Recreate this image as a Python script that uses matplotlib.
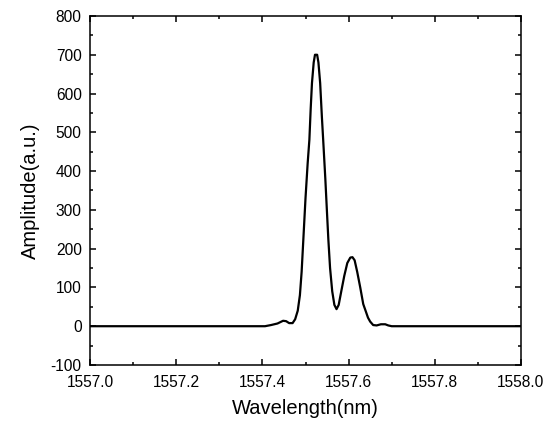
import numpy as np
import matplotlib
matplotlib.use("Agg")
from matplotlib import pyplot as plt
from matplotlib.ticker import MultipleLocator

# spectrum
wavelength = [1557.000, 1557.300, 1557.406, 1557.420, 1557.435, 1557.448, 1557.455,
              1557.462, 1557.470, 1557.476, 1557.482, 1557.487, 1557.491, 1557.495,
              1557.500, 1557.505, 1557.509, 1557.512, 1557.515, 1557.519, 1557.522,
              1557.527, 1557.530, 1557.534, 1557.538, 1557.541, 1557.546, 1557.550,
              1557.553, 1557.557, 1557.562, 1557.567, 1557.572, 1557.577, 1557.583,
              1557.590, 1557.597, 1557.604, 1557.609, 1557.614, 1557.620, 1557.627,
              1557.634, 1557.640, 1557.645, 1557.650, 1557.657, 1557.665, 1557.675,
              1557.685, 1557.692, 1557.700, 1557.850, 1558.000]
amplitude = [0, 0, 0, 3, 7, 14, 13,
             8, 8, 18, 40, 80, 140, 224,
             330, 420, 481, 560, 627, 680, 700,
             700, 680, 627, 540, 481, 380, 290,
             224, 150, 90, 55, 44, 55, 90,
             130, 163, 177, 178, 170, 140, 100,
             57, 38, 22, 12, 3, 2, 5,
             5, 2, 0, 0, 0]

plt.rcParams['font.family'] = ['Liberation Sans', 'DejaVu Sans']
plt.rcParams['axes.unicode_minus'] = False

fig = plt.figure(figsize=(5.54, 4.25), dpi=100)
ax = fig.add_axes([0.1625, 0.1412, 0.9404 - 0.1625, 0.9624 - 0.1412])
ax.plot(wavelength, amplitude, color='black', linewidth=1.6)

ax.set_xlim(1557.0, 1558.0)
ax.set_ylim(-100, 800)
ax.xaxis.set_major_locator(MultipleLocator(0.2))
ax.xaxis.set_minor_locator(MultipleLocator(0.1))
ax.yaxis.set_major_locator(MultipleLocator(100))
ax.yaxis.set_minor_locator(MultipleLocator(50))
ax.xaxis.set_major_formatter(matplotlib.ticker.FormatStrFormatter('%.1f'))

ax.tick_params(which='both', direction='in', top=True, right=True,
               width=1.1, labelsize=11.2)
ax.tick_params(which='major', length=4.3)
ax.tick_params(which='minor', length=2.5)
ax.tick_params(axis='x', which='major', pad=7)
ax.tick_params(axis='y', which='major', pad=6)
for s in ax.spines.values():
    s.set_linewidth(1.1)

ax.set_xlabel("Wavelength(nm)", fontsize=14.5, labelpad=7)
ax.set_ylabel("Amplitude(a.u.)", fontsize=14.5, labelpad=8)

fig.savefig("out.png", dpi=100)
